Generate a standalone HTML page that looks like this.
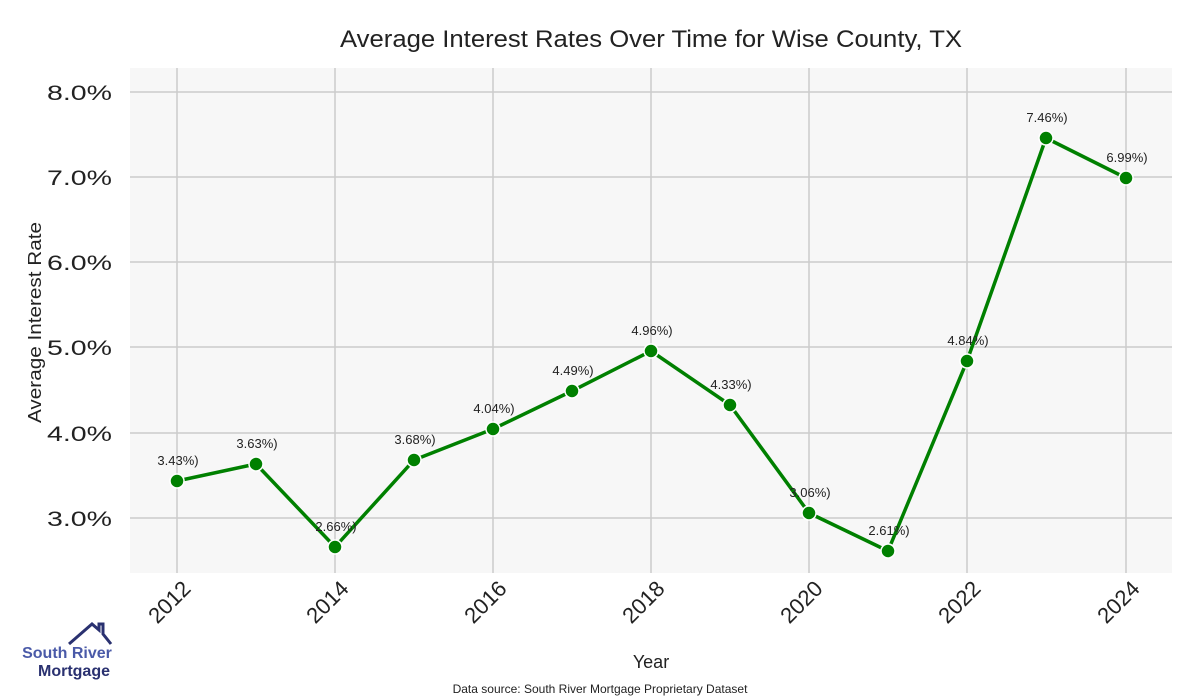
<!DOCTYPE html>
<html><head><style>body{margin:0;background:#fff}svg{display:block}</style></head><body>
<svg width="1200" height="700" xmlns="http://www.w3.org/2000/svg" font-family="Liberation Sans, sans-serif">
<rect x="130" y="68" width="1042" height="505" fill="#f7f7f7"/>
<g stroke="#cccccc" stroke-width="1.5">
<line x1="130" x2="1172" y1="92" y2="92"/><line x1="130" x2="1172" y1="177" y2="177"/><line x1="130" x2="1172" y1="262" y2="262"/><line x1="130" x2="1172" y1="347" y2="347"/><line x1="130" x2="1172" y1="433" y2="433"/><line x1="130" x2="1172" y1="518" y2="518"/>
<line x1="177" x2="177" y1="68" y2="573"/><line x1="335" x2="335" y1="68" y2="573"/><line x1="493" x2="493" y1="68" y2="573"/><line x1="651" x2="651" y1="68" y2="573"/><line x1="809" x2="809" y1="68" y2="573"/><line x1="967" x2="967" y1="68" y2="573"/><line x1="1126" x2="1126" y1="68" y2="573"/>
</g>
<text x="340" y="47" font-size="24" textLength="622" lengthAdjust="spacingAndGlyphs" fill="#222">Average Interest Rates Over Time for Wise County, TX</text>
<g font-size="21" fill="#222">
<text x="47" y="100" textLength="65" lengthAdjust="spacingAndGlyphs">8.0%</text><text x="47" y="185" textLength="65" lengthAdjust="spacingAndGlyphs">7.0%</text><text x="47" y="270" textLength="65" lengthAdjust="spacingAndGlyphs">6.0%</text><text x="47" y="355" textLength="65" lengthAdjust="spacingAndGlyphs">5.0%</text><text x="47" y="441" textLength="65" lengthAdjust="spacingAndGlyphs">4.0%</text><text x="47" y="526" textLength="65" lengthAdjust="spacingAndGlyphs">3.0%</text>
</g>
<text transform="translate(41,423) rotate(-90)" font-size="18" textLength="201" lengthAdjust="spacingAndGlyphs" fill="#222">Average Interest Rate</text>
<g font-size="22" fill="#222" text-anchor="end">
<text transform="translate(192,590) rotate(-45)">2012</text><text transform="translate(350,590) rotate(-45)">2014</text><text transform="translate(508,590) rotate(-45)">2016</text><text transform="translate(666,590) rotate(-45)">2018</text><text transform="translate(824,590) rotate(-45)">2020</text><text transform="translate(982,590) rotate(-45)">2022</text><text transform="translate(1141,590) rotate(-45)">2024</text>
</g>
<text x="651" y="668" font-size="18" text-anchor="middle" fill="#222">Year</text>
<text x="600" y="693" font-size="12" text-anchor="middle" fill="#222">Data source: South River Mortgage Proprietary Dataset</text>
<polyline fill="none" stroke="#008000" stroke-width="3.5" stroke-linejoin="round" points="177,481 256,464 335,547 414,460 493,429 572,391 651,351 730,405 809,513 888,551 967,361 1046,138 1126,178"/>
<g fill="#008000" stroke="#fff" stroke-width="1.5">
<circle cx="177" cy="481" r="7"/><circle cx="256" cy="464" r="7"/><circle cx="335" cy="547" r="7"/><circle cx="414" cy="460" r="7"/><circle cx="493" cy="429" r="7"/><circle cx="572" cy="391" r="7"/><circle cx="651" cy="351" r="7"/><circle cx="730" cy="405" r="7"/><circle cx="809" cy="513" r="7"/><circle cx="888" cy="551" r="7"/><circle cx="967" cy="361" r="7"/><circle cx="1046" cy="138" r="7"/><circle cx="1126" cy="178" r="7"/>
</g>
<g font-size="13" fill="#222" text-anchor="middle">
<text x="178" y="465">3.43%)</text><text x="257" y="448">3.63%)</text><text x="336" y="531">2.66%)</text><text x="415" y="444">3.68%)</text><text x="494" y="413">4.04%)</text><text x="573" y="375">4.49%)</text><text x="652" y="335">4.96%)</text><text x="731" y="389">4.33%)</text><text x="810" y="497">3.06%)</text><text x="889" y="535">2.61%)</text><text x="968" y="345">4.84%)</text><text x="1047" y="122">7.46%)</text><text x="1127" y="162">6.99%)</text>
</g>
<polyline fill="none" stroke="#2a3170" stroke-width="3" points="69,644 92,624 99,630 99,624 103,624 103,634 111,644"/>
<text x="67" y="658" font-size="16" font-weight="bold" fill="#4a5aa8" text-anchor="middle">South River</text>
<text x="74" y="676" font-size="16" font-weight="bold" fill="#2a3170" text-anchor="middle">Mortgage</text>
</svg>
</body></html>
